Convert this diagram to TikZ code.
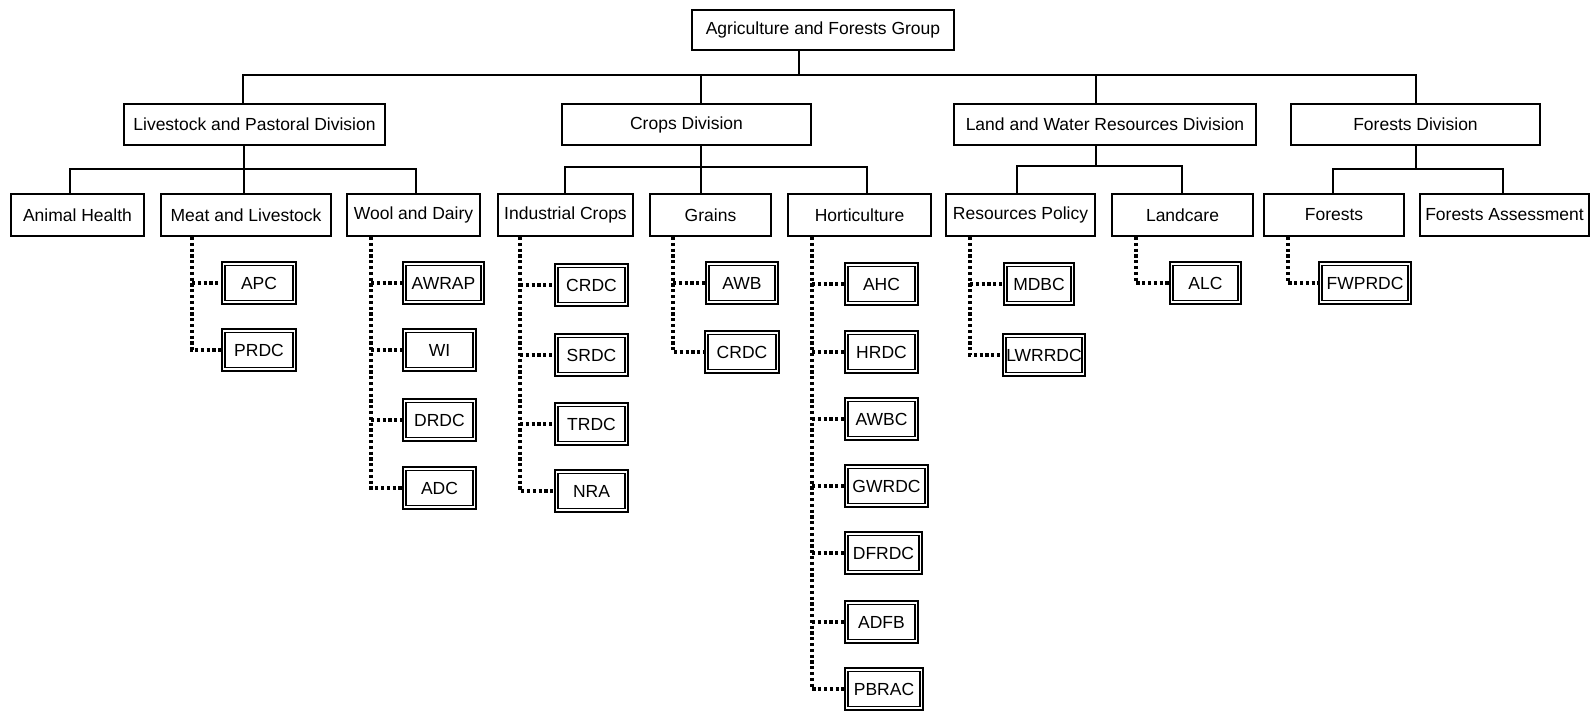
\documentclass[tikz,border=0pt]{standalone}
\usepackage{fontspec}
\setmainfont{Liberation Sans}
\begin{document}
\begin{tikzpicture}[x=1pt,y=-1pt,
  txt/.style={font=\fontsize{17.5}{20}\selectfont},
  box/.style={txt, draw, line width=2pt, inner sep=0pt, minimum height=41pt},
  leaf/.style={box, minimum height=42pt},
  sub/.style={txt, draw, line width=1.8pt, double, double distance=1.3pt, inner sep=0pt, minimum height=38.2pt},
  conn/.style={line width=2pt},
  dotc/.style={line width=3.3pt, dash pattern=on 3.2pt off 2.6pt}]
\useasboundingbox (0,0) rectangle (1595,710);
% top and divisions
\node[box, minimum width=262pt, minimum height=40pt] (top) at (823,30) {Agriculture and Forests Group};
\node[box, minimum width=261pt] (liv) at (254.5,124.5) {Livestock and Pastoral Division};
\node[box, minimum width=249pt] (crops) at (686.5,124.5) {Crops Division};
\node[box, minimum width=302pt] (lw) at (1105,124.5) {Land and Water Resources Division};
\node[box, minimum width=249pt] (fd) at (1415.5,124.5) {Forests Division};
% branches
\node[leaf, minimum width=133pt] (ah) at (77.5,215) {Animal Health};
\node[leaf, minimum width=170pt] (meat) at (246,215) {Meat and Livestock};
\node[leaf, minimum width=133pt] (wool) at (413.5,215) {Wool and Dairy};
\node[leaf, minimum width=135pt] (ind) at (565.5,215) {Industrial Crops};
\node[leaf, minimum width=121pt] (grains) at (710.5,215) {Grains};
\node[leaf, minimum width=143pt] (hort) at (859.5,215) {Horticulture};
\node[leaf, minimum width=149pt] (rp) at (1020.5,215) {Resources Policy};
\node[leaf, minimum width=141pt] (land) at (1182.5,215) {Landcare};
\node[leaf, minimum width=140pt] (for) at (1334,215) {Forests};
\node[leaf, minimum width=169pt] (fa) at (1504.5,215) {Forests Assessment};
% sub boxes
\node[sub, minimum width=71.4pt] (apc) at (259,283) {APC};
\node[sub, minimum width=71.4pt] (prdc) at (259,350) {PRDC};
\node[sub, minimum width=78.4pt] (awrap) at (443.5,283) {AWRAP};
\node[sub, minimum width=70.4pt] (wi) at (439.5,350) {WI};
\node[sub, minimum width=70.4pt] (drdc) at (439.5,420) {DRDC};
\node[sub, minimum width=70.4pt] (adc) at (439.5,488) {ADC};
\node[sub, minimum width=70.4pt] (crdca) at (591.5,285) {CRDC};
\node[sub, minimum width=70.4pt] (srdc) at (591.5,355) {SRDC};
\node[sub, minimum width=70.4pt] (trdc) at (591.5,424) {TRDC};
\node[sub, minimum width=70.4pt] (nra) at (591.5,491) {NRA};
\node[sub, minimum width=69.4pt] (awb) at (742,283) {AWB};
\node[sub, minimum width=70.4pt] (crdcb) at (742,352) {CRDC};
\node[sub, minimum width=70.4pt] (ahc) at (881.5,284) {AHC};
\node[sub, minimum width=70.4pt] (hrdc) at (881.5,352) {HRDC};
\node[sub, minimum width=70.4pt] (awbc) at (881.5,419) {AWBC};
\node[sub, minimum width=80.4pt] (gwrdc) at (886.5,486) {GWRDC};
\node[sub, minimum width=74.4pt] (dfrdc) at (883.5,553) {DFRDC};
\node[sub, minimum width=70.4pt] (adfb) at (881.5,622) {ADFB};
\node[sub, minimum width=75.4pt] (pbrac) at (884,689) {PBRAC};
\node[sub, minimum width=67.4pt] (mdbc) at (1039,284) {MDBC};
\node[sub, minimum width=78.4pt] (lwrrdc) at (1044,355) {LWRRDC};
\node[sub, minimum width=68.4pt] (alc) at (1205.5,283) {ALC};
\node[sub, minimum width=89.4pt] (fwprdc) at (1365,283) {FWPRDC};
% top-level bus
\coordinate (bT) at (799,75);
\coordinate (bL) at (243,75);
\coordinate (bC) at (701,75);
\coordinate (bW) at (1096,75);
\coordinate (bF) at (1416,75);
\draw[conn] (bT |- top.south) -- (bT);
\draw[conn] (bL |- liv.north) -- (bL) -- (bF) -- (bF |- fd.north);
\draw[conn] (bC) -- (bC |- crops.north);
\draw[conn] (bW) -- (bW |- lw.north);
% livestock bus
\coordinate (lb) at (244,169);
\coordinate (lbl) at (70,169);
\coordinate (lbr) at (416,169);
\draw[conn] (lb |- liv.south) -- (lb);
\draw[conn] (lbl |- ah.north) -- (lbl) -- (lbr) -- (lbr |- wool.north);
\draw[conn] (lb) -- (lb |- meat.north);
% crops bus
\coordinate (cb) at (701,167);
\coordinate (cbl) at (565,167);
\coordinate (cbr) at (867,167);
\draw[conn] (cb |- crops.south) -- (cb) -- (cb |- grains.north);
\draw[conn] (cbl |- ind.north) -- (cbl) -- (cbr) -- (cbr |- hort.north);
% land and water bus
\coordinate (wb) at (1096,166);
\coordinate (wbl) at (1017,166);
\coordinate (wbr) at (1182,166);
\draw[conn] (wb |- lw.south) -- (wb);
\draw[conn] (wbl |- rp.north) -- (wbl) -- (wbr) -- (wbr |- land.north);
% forests bus
\coordinate (fb) at (1416,169);
\coordinate (fbl) at (1333,169);
\coordinate (fbr) at (1503,169);
\draw[conn] (fb |- fd.south) -- (fb);
\draw[conn] (fbl |- for.north) -- (fbl) -- (fbr) -- (fbr |- fa.north);
% dotted links
\coordinate (dM) at (192,0);
\draw[dotc] (dM |- meat.south) |- (prdc.west);
\draw[dotc] (dM |- apc.west) -- (apc.west);
\coordinate (dW) at (371,0);
\draw[dotc] (dW |- wool.south) |- (adc.west);
\foreach \n in {awrap,wi,drdc} \draw[dotc] (dW |- \n.west) -- (\n.west);
\coordinate (dI) at (520,0);
\draw[dotc] (dI |- ind.south) |- (nra.west);
\foreach \n in {crdca,srdc,trdc} \draw[dotc] (dI |- \n.west) -- (\n.west);
\coordinate (dG) at (673,0);
\draw[dotc] (dG |- grains.south) |- (crdcb.west);
\draw[dotc] (dG |- awb.west) -- (awb.west);
\coordinate (dH) at (812,0);
\draw[dotc] (dH |- hort.south) |- (pbrac.west);
\foreach \n in {ahc,hrdc,awbc,gwrdc,dfrdc,adfb} \draw[dotc] (dH |- \n.west) -- (\n.west);
\coordinate (dR) at (970,0);
\draw[dotc] (dR |- rp.south) |- (lwrrdc.west);
\draw[dotc] (dR |- mdbc.west) -- (mdbc.west);
\coordinate (dL) at (1136,0);
\draw[dotc] (dL |- land.south) |- (alc.west);
\coordinate (dF) at (1288,0);
\draw[dotc] (dF |- for.south) |- (fwprdc.west);
\end{tikzpicture}
\end{document}
